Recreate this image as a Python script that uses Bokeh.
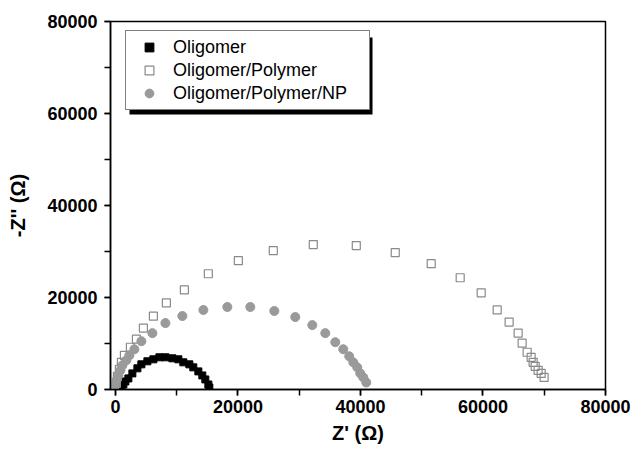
from bokeh.plotting import figure
from bokeh.models import Legend, LegendItem, SingleIntervalTicker, BoxAnnotation, Range1d
from bokeh.embed import file_html
from bokeh.resources import INLINE

series_names = ["Oligomer", "Oligomer/Polymer", "Oligomer/Polymer/NP"]

olig_x = [980, 1300, 1630, 2120, 2770, 3590, 4240, 5220, 6200, 7180, 8160,
          9300, 10280, 11090, 12070, 12720, 13540, 14190, 14680, 15170, 15330]
olig_y = [440, 1090, 1750, 2410, 3500, 4600, 5470, 6130, 6560, 7000, 7000,
          6780, 6560, 5910, 5470, 4810, 3940, 3060, 2190, 1090, 440]

poly_x = [160, 330, 650, 980, 1470, 2450, 3430, 4570, 6200, 8320, 11260,
          15170, 20070, 25770, 32300, 39320, 45680, 51550, 56280, 59710,
          62320, 64270, 65740, 66390, 67210, 67860, 68190, 68520, 69000,
          69500, 69980]
poly_y = [1310, 2840, 4380, 5910, 7440, 9190, 10940, 13350, 15970, 18820, 21660,
          25160, 28010, 30200, 31510, 31290, 29760, 27350, 24290, 21010,
          17290, 14660, 12250, 10070, 8100, 7000, 5910, 5030, 4160,
          3500, 2630]

np_x = [0, 160, 490, 820, 1140, 1790, 2280, 3100, 4240, 6040, 8160, 10930,
        14360, 18270, 22020, 25940, 29360, 32140, 34260, 35890, 37190, 38170,
        38830, 39480, 39970, 40460, 40950]
np_y = [880, 1970, 3060, 4160, 5250, 6350, 7440, 8750, 10500, 12250, 14440, 15970,
        17290, 17940, 17940, 17070, 15750, 14000, 12250, 10280, 8750, 7220,
        5910, 4810, 3500, 2630, 1530]

x_label = "Z' (\u03a9)"
y_label = "-Z'' (\u03a9)"

FONT = "Liberation Sans"

p = figure(width=634, height=452, output_backend="svg", toolbar_location=None,
           x_range=Range1d(-800, 80000), y_range=Range1d(0, 80000),
           min_border_left=110, min_border_right=29, min_border_top=21,
           min_border_bottom=63)
p.xgrid.visible = False
p.ygrid.visible = False
p.outline_line_color = "black"
p.outline_line_width = 1.5
p.background_fill_color = "white"
p.border_fill_color = "white"

for ax in (p.xaxis[0], p.yaxis[0]):
    ax.ticker = SingleIntervalTicker(interval=20000, num_minor_ticks=2)
    ax.major_tick_in = 0
    ax.major_tick_out = 6
    ax.minor_tick_in = 0
    ax.minor_tick_out = 6
    ax.axis_line_width = 1.5
    ax.major_tick_line_width = 1.5
    ax.minor_tick_line_width = 1.5
    ax.axis_line_color = "black"
    ax.major_tick_line_color = "black"
    ax.minor_tick_line_color = "black"
    ax.major_label_text_font = FONT
    ax.major_label_text_font_style = "bold"
    ax.major_label_text_font_size = "18px"
    ax.major_label_text_color = "black"
    ax.axis_label_text_font = FONT
    ax.axis_label_text_font_style = "bold"
    ax.axis_label_text_font_size = "20px"
    ax.axis_label_text_color = "black"

p.xaxis[0].axis_label = x_label
p.yaxis[0].axis_label = y_label
p.xaxis[0].major_label_standoff = 4
p.xaxis[0].axis_label_standoff = 6
p.yaxis[0].major_label_standoff = 7
p.yaxis[0].axis_label_standoff = 15

r1 = p.scatter(olig_x, olig_y, marker="square", size=7, fill_color="black",
               line_color="black")
r2 = p.scatter(poly_x, poly_y, marker="square", size=8, fill_color="white",
               fill_alpha=0, line_color="#8a8a8a", line_width=1.2)
r3 = p.scatter(np_x, np_y, marker="circle", size=9, fill_color="#9a9a9a",
               line_color="#9a9a9a")

shadow = BoxAnnotation(left=19, right=262, bottom=275, top=352,
                       left_units="screen", right_units="screen",
                       bottom_units="screen", top_units="screen",
                       fill_color="black", fill_alpha=1, line_color=None)
p.add_layout(shadow)

legend = Legend(items=[LegendItem(label=series_names[0], renderers=[r1]),
                       LegendItem(label=series_names[1], renderers=[r2]),
                       LegendItem(label=series_names[2], renderers=[r3])],
                location=(15, 279), margin=0, padding=5, spacing=1,
                label_height=22, glyph_height=22, glyph_width=36,
                label_width=191,
                label_standoff=6, label_text_font=FONT,
                label_text_font_size="18px", label_text_color="black",
                border_line_color="black", border_line_width=1.5,
                background_fill_color="white", background_fill_alpha=1)
p.add_layout(legend, "center")

open("out.html", "w").write(file_html(p, INLINE))
